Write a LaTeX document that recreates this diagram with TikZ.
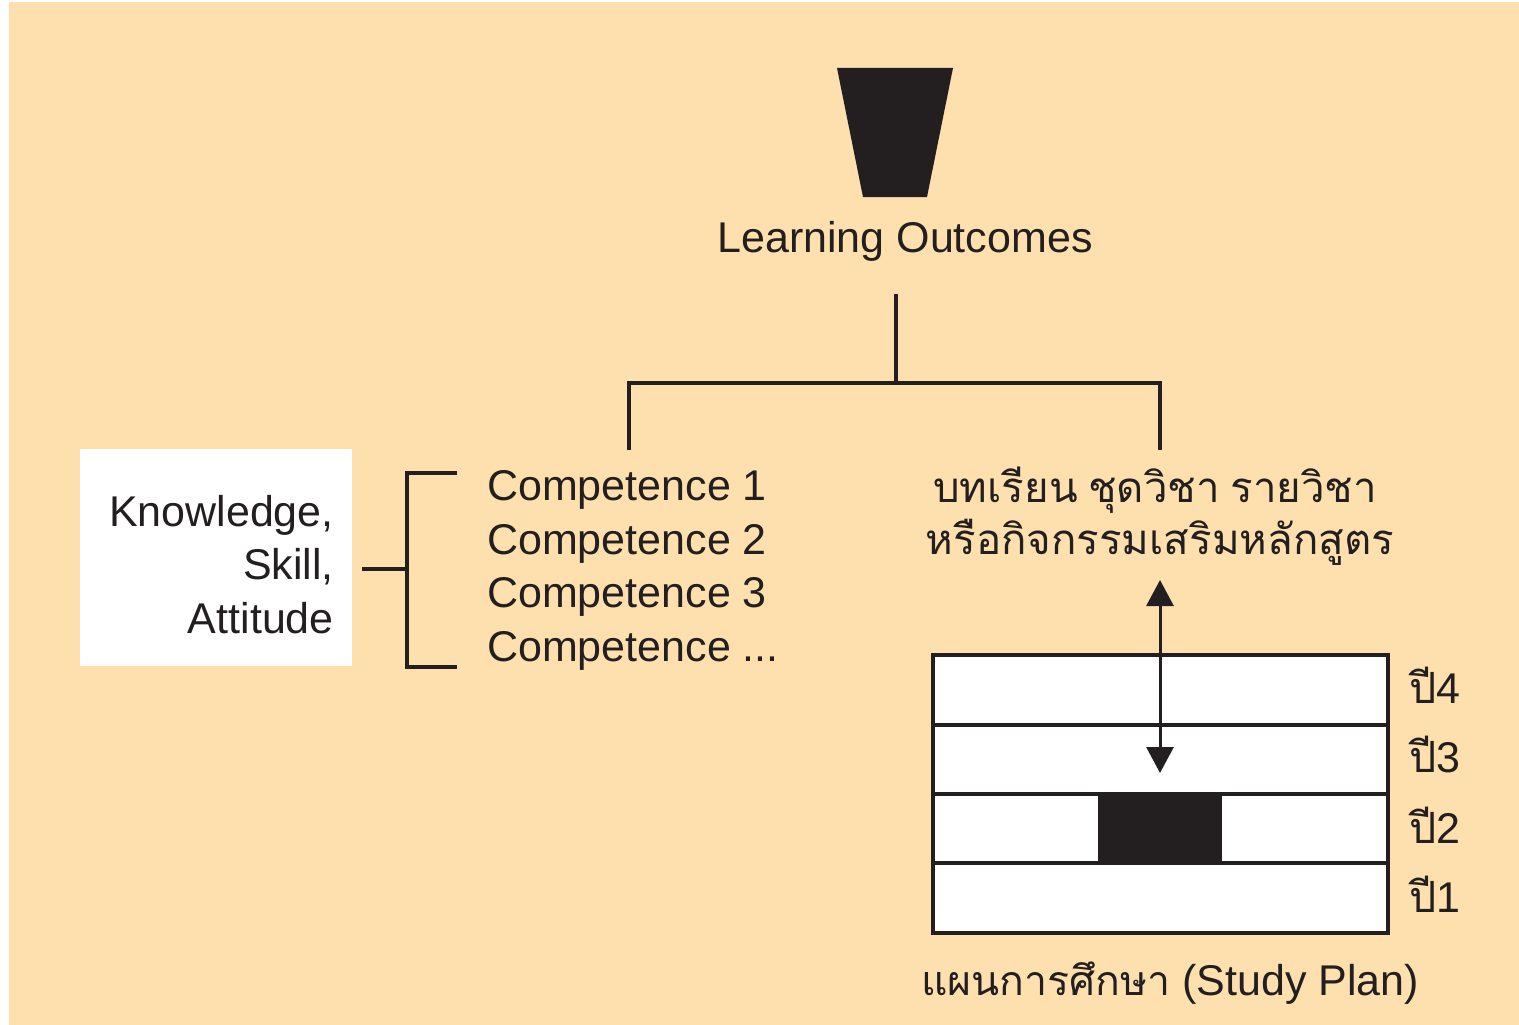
\documentclass[tikz,border=0pt]{standalone}
\usepackage{fontspec}
\setmainfont{Liberation Sans}
\newfontfamily\thaifont[Script=Thai,WordSpace=0.75]{Loma}
\usetikzlibrary{arrows.meta}
\definecolor{bg}{HTML}{FDE0AD}
\definecolor{ink}{HTML}{231F20}
\tikzset{
  lbl/.style={inner sep=0pt, text=ink, font=\fontsize{43}{54}\selectfont},
  thai/.style={inner sep=0pt, text=ink, font=\thaifont\fontsize{42}{54}\selectfont},
  wire/.style={draw=ink, line width=3.5pt},
  row/.style={draw=ink, fill=white, line width=4pt},
}
\begin{document}
\begin{tikzpicture}[x=1pt,y=-1pt]
\useasboundingbox (0,0) rectangle (1519,1025);
\fill[white] (0,0) rectangle (1519,1025);
\fill[bg] (9,2) rectangle (1519,1025);
% trapezoid
\fill[ink] (837,68) -- (953,68) -- (927,197) -- (863,197) -- cycle;
\node[lbl, anchor=base] (lo) at (905,252) {Learning Outcomes};
% tree
\coordinate (t0) at (896,294);
\coordinate (t1) at (896,383);
\coordinate (tl) at (629,383);
\coordinate (tr) at (1160,383);
\coordinate (tlb) at (629,450);
\coordinate (trb) at (1160,450);
\draw[wire] (t0) -- (t1);
\draw[wire] (tlb) -- (tl) -- (tr) -- (trb);
% knowledge box
\node[fill=white, minimum width=272pt, minimum height=217pt, inner sep=0pt] (ksa) at (216,557.5) {};
\node[lbl, anchor=base east] (k1) at (334,526) {Knowledge,};
\node[lbl, anchor=base east] (k2) at (334,579) {Skill,};
\node[lbl, anchor=base east] (k3) at (334,633) {Attitude};
% bracket
\coordinate (b0) at (362,569);
\coordinate (b1) at (407,569);
\coordinate (bt) at (457,473);
\coordinate (btc) at (407,473);
\coordinate (bbc) at (407,667);
\coordinate (bb) at (457,667);
\draw[wire] (b0) -- (b1);
\draw[wire] (bt) -- (btc) -- (bbc) -- (bb);
% competences
\node[lbl, anchor=base west] (c1) at (487,500) {Competence 1};
\node[lbl, anchor=base west] (c2) at (487,554) {Competence 2};
\node[lbl, anchor=base west] (c3) at (487,607) {Competence 3};
\node[lbl, anchor=base west] (c4) at (487,661) {Competence ...};
% thai
\node[thai, anchor=base] (th1) at (1155,502) {บทเรียน ชุดวิชา รายวิชา};
\node[thai, anchor=base] (th2) at (1160,554) {หรือกิจกรรมเสริมหลักสูตร};
% study plan
\draw[row] (933,863) rectangle (1388,933);
\draw[row] (933,794) rectangle (1388,863);
\draw[row] (933,725) rectangle (1388,794);
\draw[row] (933,655) rectangle (1388,725);
\fill[ink] (1098,794) rectangle (1222,863);
\coordinate (a0) at (1160,580);
\coordinate (a1) at (1160,773);
\draw[wire, line width=3pt, {Triangle[width=27pt,length=26pt]}-{Triangle[width=27pt,length=26pt]}] (a0) -- (a1);
\node[lbl, anchor=base west] (y4) at (1409,703) {{\thaifont ปี}4};
\node[lbl, anchor=base west] (y3) at (1409,772) {{\thaifont ปี}3};
\node[lbl, anchor=base west] (y2) at (1409,843) {{\thaifont ปี}2};
\node[lbl, anchor=base west] (y1) at (1409,912) {{\thaifont ปี}1};
\node[lbl, anchor=base] (sp) at (1170,995) {{\thaifont\fontsize{41}{54}\selectfont แผนการศึกษา} (Study Plan)};
\end{tikzpicture}
\end{document}
